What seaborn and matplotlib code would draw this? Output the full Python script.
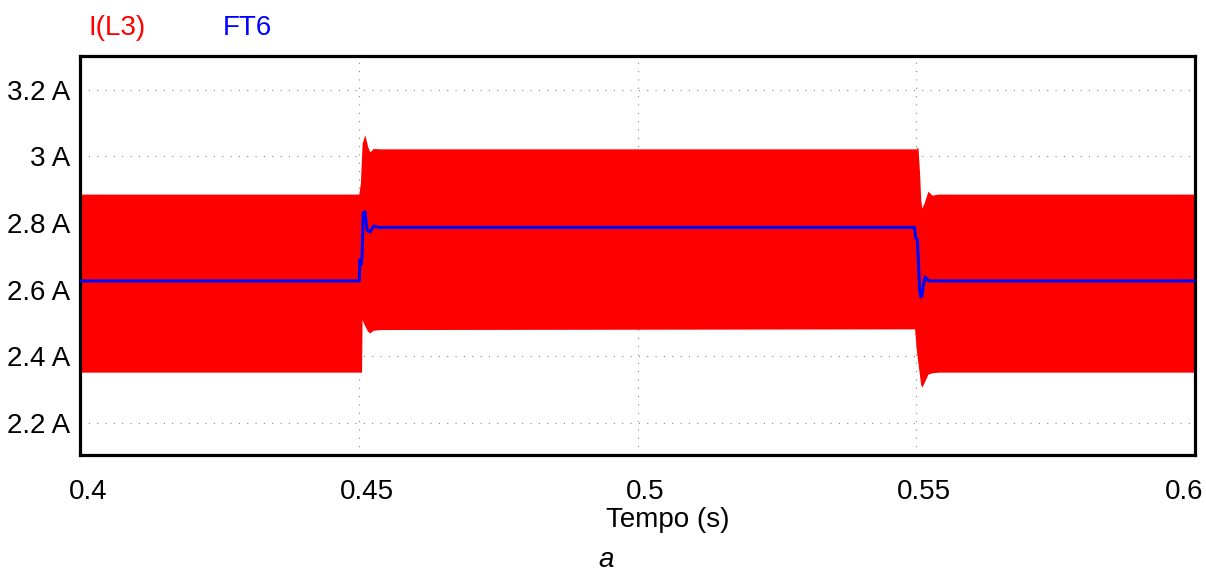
import matplotlib
matplotlib.use("Agg")
import matplotlib.pyplot as plt
import matplotlib.transforms as mtransforms
import seaborn as sns
import pandas as pd

# ---- data ----
# I(L3): dense switching ripple, drawn as its envelope (upper / lower)
ENV_T = [0.4000, 0.4500, 0.4503, 0.4505, 0.4506, 0.4511, 0.4516, 0.4520, 0.4526, 0.4540,
         0.5497, 0.5500, 0.5503, 0.5506, 0.5508, 0.5510, 0.5514, 0.5521, 0.5528, 0.5540, 0.6000]
ENV_UPPER = [2.887, 2.887, 2.920, 3.000, 3.040, 3.065, 3.030, 3.014, 3.024, 3.023,
             3.023, 3.023, 3.029, 2.950, 2.870, 2.845, 2.860, 2.896, 2.884, 2.887, 2.887]
ENV_LOWER = [2.352, 2.352, 2.352, 2.352, 2.510, 2.490, 2.475, 2.470, 2.478, 2.480,
             2.482, 2.420, 2.380, 2.340, 2.315, 2.307, 2.320, 2.346, 2.350, 2.352, 2.352]

# FT6: filtered value
FT6_T = [0.4000, 0.4501, 0.4502, 0.4504, 0.4506, 0.4508, 0.4511, 0.4515, 0.4520, 0.4527, 0.4535,
         0.5497, 0.5499, 0.5502, 0.5504, 0.5506, 0.5508, 0.5510, 0.5513, 0.5516, 0.5519, 0.5523, 0.6000]
FT6_V = [2.626, 2.626, 2.690, 2.675, 2.700, 2.830, 2.834, 2.779, 2.773, 2.791, 2.787,
         2.787, 2.755, 2.750, 2.680, 2.600, 2.578, 2.580, 2.615, 2.638, 2.632, 2.626, 2.626]

X_TICKS = [0.4, 0.45, 0.5, 0.55, 0.6]
X_TICK_LABELS = ["0.4", "0.45", "0.5", "0.55", "0.6"]
Y_TICKS = [2.2, 2.4, 2.6, 2.8, 3.0, 3.2]
Y_TICK_LABELS = ["2.2 A", "2.4 A", "2.6 A", "2.8 A", "3 A", "3.2 A"]
SERIES_NAMES = ["I(L3)", "FT6"]

sns.set_theme(style="white")
plt.rcParams["font.family"] = ["Liberation Sans", "DejaVu Sans"]

FS = 20
W, H = 1206, 574
fig = plt.figure(figsize=(W / 100, H / 100), dpi=100)
ax = fig.add_axes([80 / W, 1 - 455 / H, (1195 - 80) / W, (455 - 56) / H])

ax.fill_between(ENV_T, ENV_LOWER, ENV_UPPER, color="#ff0000", linewidth=0, zorder=2)

df = pd.DataFrame({"t": FT6_T, "v": FT6_V})
sns.lineplot(data=df, x="t", y="v", ax=ax, color="#0000ff", linewidth=2.2, zorder=3,
             estimator=None, sort=False)

ax.set_xlim(0.4, 0.6)
ax.set_ylim(2.103, 3.302)
ax.set_xticks(X_TICKS)
ax.set_xticklabels(X_TICK_LABELS)
ax.set_yticks(Y_TICKS)
ax.set_yticklabels(Y_TICK_LABELS)
ax.tick_params(axis="x", length=0, pad=17, labelsize=FS, colors="black")
ax.tick_params(axis="y", length=0, pad=7, labelsize=FS, colors="black")
ax.set_xlabel("")
ax.set_ylabel("")

# label offsets (pixels) as seen in the reference
x_shifts = [8, 8, 8, 8, -11]
for lbl, dx in zip(ax.get_xticklabels(), x_shifts):
    lbl.set_transform(lbl.get_transform() +
                      mtransforms.ScaledTranslation(dx / 100, 0, fig.dpi_scale_trans))

ax.grid(True, color="#888888", linestyle=(0, (1, 6.5)), linewidth=0.8, zorder=1)
ax.set_axisbelow(True)
for s in ax.spines.values():
    s.set_visible(True)
    s.set_color("black")
    s.set_linewidth(2.3)

fig.text(117 / W, 1 - 28 / H, SERIES_NAMES[0], color="#ff0000", fontsize=FS,
         ha="center", va="center")
fig.text(247 / W, 1 - 28 / H, SERIES_NAMES[1], color="#0000ff", fontsize=FS,
         ha="center", va="center")
fig.text(668 / W, 1 - 520 / H, "Tempo (s)", color="black", fontsize=FS,
         ha="center", va="center")
fig.text(606 / W, 1 - 567 / H, "a", color="black", fontsize=FS, style="italic",
         ha="center", va="baseline")

fig.savefig("out.png", dpi=100)
